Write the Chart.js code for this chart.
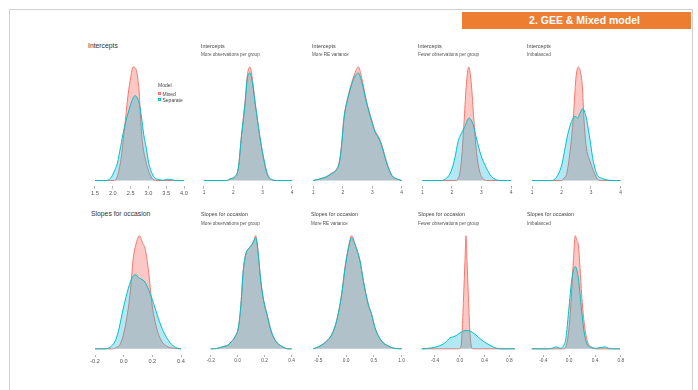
<!DOCTYPE html>
<html><head><meta charset="utf-8">
<script src="https://cdn.jsdelivr.net/npm/chart.js@4.4.1/dist/chart.umd.min.js"></script>
<style>
html,body{margin:0;padding:0;background:#fff;}
body{width:698px;height:390px;position:relative;overflow:hidden;font-family:"Liberation Sans",Arial,sans-serif;}
#frame{position:absolute;left:9px;top:9px;width:682px;height:392px;border:1px solid #d0d0d0;border-bottom:none;}
#hdr{position:absolute;left:462px;top:12px;width:229px;height:17px;background:#ED7D31;color:#fff;font-weight:bold;font-size:10.5px;line-height:17px;text-align:center;box-sizing:border-box;padding-left:16px;}
.t{position:absolute;white-space:nowrap;color:#333;}
canvas{position:absolute;}
.sw{position:absolute;width:3px;height:3px;box-sizing:border-box;}
</style></head><body>
<div id="frame"></div>
<div id="hdr">2. GEE &amp; Mixed model</div>
<div id="wrap"></div>
<script>
// ---------------- data ----------------
const panelTitles = ["Intercepts","Intercepts","Intercepts","Intercepts","Intercepts",
  "Slopes for occasion","Slopes for occasion","Slopes for occasion","Slopes for occasion","Slopes for occasion"];
const panelSubtitles = ["","More observations per group","More RE variance","Fewer observations per group","Imbalanced",
  "","More observations per group","More RE variance","Fewer observations per group","Imbalanced"];
const seriesNames = ["Mixed","Separate"];
const legendTitle = "Model";

const intAllTicks = [1.5,2.0,2.5,3.0,3.5,4.0];
const intTicks = [1,2,3,4];
const slpAllTicks = [-0.2,0.0,0.2,0.4];
const slpMoreRETicks = [-0.5,0.0,0.5,1.0];
const slpSmallTicks = [-0.4,0.0,0.4,0.8];

// Intercepts (all)
const intAllMixedX = [1.5,2.03,2.11,2.22,2.31,2.36,2.43,2.5,2.57,2.67,2.70,2.74,2.78,2.83,2.93,3.01,3.10,3.24,4.0];
const intAllMixedY = [0,0,0.07,0.57,1.37,1.87,2.57,3.07,3.40,3.27,3.07,2.67,1.87,1.17,0.57,0.27,0.07,0,0];
const intAllSepX = [1.5,1.80,1.94,2.03,2.13,2.22,2.30,2.39,2.5,2.57,2.62,2.69,2.75,2.81,2.87,2.94,3.01,3.08,3.17,3.29,3.43,3.54,3.63,3.76,4.0];
const intAllSepY = [0,0,0.07,0.25,0.52,1.02,1.47,1.87,2.27,2.47,2.54,2.47,2.27,1.87,1.37,0.97,0.52,0.27,0.09,0.03,0.01,0.04,0.03,0,0];
// Intercepts, more observations per group
const intMoreObsX = [1.0,1.77,1.89,2.06,2.17,2.28,2.40,2.48,2.57,2.66,2.74,2.83,2.93,3.05,3.16,3.31,3.48,4.0];
const intMoreObsMixedY = [0,0,0.05,0.12,0.37,1.37,2.37,3.17,3.40,2.97,2.37,1.77,1.17,0.57,0.17,0.02,0,0];
const intMoreObsSepY = [0,0,0.05,0.12,0.37,1.35,2.30,3.07,3.22,2.87,2.33,1.77,1.17,0.60,0.20,0.03,0,0];
// Intercepts, more RE variance
const intMoreREX = [1.0,1.23,1.45,1.62,1.77,1.88,1.96,2.04,2.19,2.39,2.53,2.64,2.81,2.96,3.10,3.21,3.32,3.49,3.66,3.83,4.0];
const intMoreREMixedY = [0,0.0125,0.03,0.055,0.08,0.14,0.27,0.47,0.64,0.79,0.85,0.77,0.59,0.47,0.37,0.33,0.27,0.14,0.04,0.0125,0];
const intMoreRESepY = [0,0.012,0.028,0.05,0.075,0.13,0.26,0.46,0.63,0.77,0.805,0.74,0.58,0.46,0.36,0.32,0.26,0.13,0.04,0.012,0];
// Intercepts, fewer observations per group
const intFewerMixedX = [1.0,2.16,2.21,2.27,2.35,2.42,2.49,2.57,2.66,2.74,2.83,2.94,3.06,3.17,4.0];
const intFewerMixedY = [0,0,0.07,0.22,0.87,1.87,2.87,3.40,2.87,1.87,0.87,0.27,0.05,0,0];
const intFewerSepX = [1.0,1.65,1.82,1.97,2.10,2.21,2.30,2.44,2.58,2.72,2.83,2.98,3.17,3.34,3.51,3.67,4.0];
const intFewerSepY = [0,0,0.07,0.27,0.67,1.17,1.37,1.62,1.87,1.67,1.27,0.77,0.37,0.12,0.02,0,0];
// Intercepts, imbalanced
const intImbalMixedX = [1.0,2.01,2.08,2.18,2.29,2.40,2.49,2.57,2.65,2.71,2.76,2.83,2.97,3.14,3.25,3.36,4.0];
const intImbalMixedY = [0,0,0.07,0.22,0.87,1.87,3.07,3.40,3.22,2.77,1.87,1.07,0.57,0.17,0.02,0,0];
const intImbalSepX = [1.0,1.67,1.78,1.89,2.01,2.10,2.21,2.34,2.46,2.55,2.63,2.72,2.83,2.94,3.08,3.21,3.36,3.53,3.70,4.0];
const intImbalSepY = [0,0,0.05,0.19,0.47,0.87,1.37,1.77,1.92,1.87,2.02,2.15,1.92,1.37,0.57,0.17,0.07,0.02,0,0];

// Slopes for occasion (all)
const slpAllMixedX = [-0.2,-0.072,-0.049,-0.026,0.009,0.044,0.067,0.091,0.109,0.133,0.149,0.165,0.179,0.195,0.23,0.265,0.30,0.347,0.4];
const slpAllMixedY = [0,0,0.1,0.26,1.26,3.26,5.46,6.46,6.82,6.36,6.06,5.26,4.26,2.86,1.26,0.46,0.16,0.04,0];
const slpAllSepX = [-0.2,-0.13,-0.095,-0.06,-0.037,-0.002,0.033,0.063,0.086,0.102,0.119,0.149,0.184,0.219,0.249,0.288,0.335,0.37,0.4];
const slpAllSepY = [0,0,0.1,0.46,1.06,2.46,3.66,4.36,4.46,4.3,4.22,4.02,3.36,2.46,1.66,0.86,0.26,0.06,0];
// Slopes, more observations per group
const slpMoreObsX = [-0.2,-0.157,-0.12,-0.096,-0.072,-0.048,-0.017,0.007,0.024,0.041,0.06,0.084,0.108,0.123,0.133,0.145,0.157,0.171,0.193,0.217,0.248,0.282,0.325,0.373,0.4];
const slpMoreObsMixedY = [0,0.02,0.1,0.16,0.22,0.42,0.76,1.36,2.66,4.66,5.66,6.02,6.26,6.56,6.76,6.26,5.26,4.06,2.86,2.06,1.06,0.46,0.16,0,0];
const slpMoreObsSepY = [0,0.02,0.1,0.16,0.22,0.42,0.76,1.36,2.66,4.66,5.66,6.02,6.26,6.50,6.66,6.20,5.26,4.06,2.86,2.06,1.06,0.46,0.16,0,0];
// Slopes, more RE variance
const slpMoreREX = [-0.59,-0.47,-0.35,-0.26,-0.17,-0.08,-0.02,0.04,0.10,0.16,0.25,0.31,0.40,0.46,0.52,0.64,0.76,0.85,1.0];
const slpMoreREMixedY = [0,0.04,0.11,0.2,0.4,0.78,1.16,1.44,1.61,1.49,1.25,0.97,0.63,0.49,0.3,0.11,0.04,0.01,0];
const slpMoreRESepY = [0,0.04,0.11,0.2,0.4,0.77,1.14,1.42,1.58,1.48,1.25,0.97,0.63,0.49,0.3,0.11,0.04,0.01,0];
// Slopes, fewer observations per group
const slpFewerMixedX = [-0.615,-0.023,0.02,0.041,0.063,0.084,0.1,0.117,0.138,0.16,0.187,0.219,0.89];
const slpFewerMixedY = [0,0,0.32,2.52,6.52,10.52,13.64,10.52,6.52,2.52,0.32,0,0];
const slpFewerSepX = [-0.615,-0.535,-0.454,-0.346,-0.239,-0.158,-0.077,0.004,0.084,0.138,0.219,0.3,0.38,0.488,0.569,0.676,0.89];
const slpFewerSepY = [0,0.04,0.12,0.32,0.72,1.32,1.52,1.92,2.2,2.2,1.92,1.4,0.92,0.44,0.12,0,0];
// Slopes, imbalanced
const slpImbalMixedX = [-0.58,-0.09,-0.049,-0.013,0.023,0.065,0.095,0.116,0.142,0.168,0.194,0.23,0.281,0.348,0.426,0.787];
const slpImbalMixedY = [0,0,0.32,1.72,4.92,10.52,13.64,13.12,12.52,9.72,6.52,3.32,0.92,0.2,0,0];
const slpImbalSepX = [-0.58,-0.323,-0.245,-0.194,-0.142,-0.09,-0.049,-0.008,0.044,0.095,0.142,0.194,0.23,0.271,0.333,0.426,0.555,0.606,0.684,0.787];
const slpImbalSepY = [0,0,0.12,0.24,0.08,0.32,1.32,4.52,8.52,9.92,8.52,4.52,2.12,0.72,0.2,0.08,0.24,0.08,0,0];

// ---------------- assemble ----------------
const panels = [
  {mx:intAllMixedX, my:intAllMixedY, sx:intAllSepX, sy:intAllSepY, ticks:intAllTicks, dec:1},
  {mx:intMoreObsX, my:intMoreObsMixedY, sx:intMoreObsX, sy:intMoreObsSepY, ticks:intTicks, dec:0},
  {mx:intMoreREX, my:intMoreREMixedY, sx:intMoreREX, sy:intMoreRESepY, ticks:intTicks, dec:0},
  {mx:intFewerMixedX, my:intFewerMixedY, sx:intFewerSepX, sy:intFewerSepY, ticks:intTicks, dec:0},
  {mx:intImbalMixedX, my:intImbalMixedY, sx:intImbalSepX, sy:intImbalSepY, ticks:intTicks, dec:0},
  {mx:slpAllMixedX, my:slpAllMixedY, sx:slpAllSepX, sy:slpAllSepY, ticks:slpAllTicks, dec:1},
  {mx:slpMoreObsX, my:slpMoreObsMixedY, sx:slpMoreObsX, sy:slpMoreObsSepY, ticks:slpAllTicks, dec:1},
  {mx:slpMoreREX, my:slpMoreREMixedY, sx:slpMoreREX, sy:slpMoreRESepY, ticks:slpMoreRETicks, dec:1},
  {mx:slpFewerMixedX, my:slpFewerMixedY, sx:slpFewerSepX, sy:slpFewerSepY, ticks:slpSmallTicks, dec:1},
  {mx:slpImbalMixedX, my:slpImbalMixedY, sx:slpImbalSepX, sy:slpImbalSepY, ticks:slpSmallTicks, dec:1}
];

// ---------------- layout (pixel calibration per panel) ----------------
const layout = [
  {ax:[1.5,95,4.0,184], row:0, tx:88, big:true},
  {ax:[1,204,4,292], row:0, tx:201},
  {ax:[1,313.3,4,401.7], row:0, tx:312},
  {ax:[1,422.3,4,511], row:0, tx:418},
  {ax:[1,532,3,591], row:0, tx:527},
  {ax:[-0.2,95,0.4,181], row:1, tx:91, big:true},
  {ax:[-0.2,210.7,0.4,291.7], row:1, tx:201},
  {ax:[-0.5,318.3,1.0,401.7], row:1, tx:311},
  {ax:[-0.4,435,0.8,509.3], row:1, tx:418},
  {ax:[-0.4,543.3,0.4,595], row:1, tx:527}
];
const rows = [{top:61.3, bottom:186.2, titleY:46.5, subY:55.5}, {top:230, bottom:354.5, titleY:214.3, subY:224}];
const MIXED_LINE = '#F8766D', MIXED_FILL = 'rgba(248,118,109,0.40)';
const SEP_LINE = '#00BFC4', SEP_FILL = 'rgba(0,180,215,0.30)';
const FONT = '"Liberation Sans", Arial, sans-serif';
const wrap = document.getElementById('wrap');

function addText(txt, x, cy, size, color){
  const d = document.createElement('div');
  d.className = 't';
  d.textContent = txt;
  d.style.left = x + 'px';
  d.style.top = (cy - size/2) + 'px';
  d.style.fontSize = size + 'px';
  d.style.lineHeight = size + 'px';
  d.style.color = color;
  wrap.appendChild(d);
}

panels.forEach((p, i) => {
  const L = layout[i], R = rows[L.row];
  const [v0, p0, v1, p1] = L.ax;
  const k = (p1 - p0) / (v1 - v0);
  const px = v => p0 + (v - v0) * k;
  const allX = p.mx.concat(p.sx);
  let xmin = Math.min(...allX), xmax = Math.max(...allX);
  const ex = (xmax - xmin) * 0.05; xmin -= ex; xmax += ex;
  const M = Math.max(...p.my, ...p.sy);
  const left = px(xmin), right = px(xmax);
  const cl = Math.floor(left) - 8, cr = Math.ceil(right) + 8;
  const ct = Math.floor(R.top) - 2;
  const axisH = 11;
  const ch = Math.ceil(R.bottom - ct + axisH);
  const cv = document.createElement('canvas');
  cv.width = cr - cl; cv.height = ch;
  cv.style.left = cl + 'px'; cv.style.top = ct + 'px';
  cv.style.width = (cr - cl) + 'px'; cv.style.height = ch + 'px';
  wrap.appendChild(cv);

  // titles
  if (L.big) {
    addText(panelTitles[i], L.tx, R.titleY, 6.8, '#333');
  } else {
    addText(panelTitles[i], L.tx, R.titleY, 5.4, '#444');
    addText(panelSubtitles[i], L.tx, R.subY, 4.6, '#555');
  }

  new Chart(cv, {
    type: 'line',
    data: {
      datasets: [
        {label: seriesNames[0], data: p.mx.map((x, j) => ({x, y: p.my[j]})),
         borderColor: MIXED_LINE, backgroundColor: MIXED_FILL, fill: 'origin', order: 1},
        {label: seriesNames[1], data: p.sx.map((x, j) => ({x, y: p.sy[j]})),
         borderColor: SEP_LINE, backgroundColor: SEP_FILL, fill: 'origin', order: 0}
      ]
    },
    options: {
      responsive: false, animation: false, devicePixelRatio: 1,
      layout: {padding: {left: left - cl, right: cr - right, top: R.top - ct, bottom: ch - axisH - (R.bottom - ct)}},
      elements: {point: {radius: 0}, line: {borderWidth: 1, cubicInterpolationMode: 'monotone'}},
      plugins: {legend: {display: false}, tooltip: {enabled: false}, title: {display: false}},
      scales: {
        x: {
          type: 'linear', min: xmin, max: xmax,
          afterBuildTicks: a => { a.ticks = p.ticks.map(v => ({value: v})); },
          afterFit: s => { s.height = axisH; },
          grid: {display: true, drawOnChartArea: false, drawTicks: true, tickLength: 2.5, color: '#9a9a9a', lineWidth: 0.8},
          border: {display: false},
          ticks: {padding: 1, autoSkip: false, maxRotation: 0, color: '#555',
                  font: {family: FONT, size: L.big ? 5.6 : 4.8},
                  callback: v => Number(v).toFixed(p.dec)}
        },
        y: {display: false, min: -0.05 * M, max: 1.05 * M}
      }
    }
  });
});

// legend (panel 1)
addText(legendTitle, 158, 85, 5, '#444');
[[MIXED_FILL, MIXED_LINE, 94], [SEP_FILL, SEP_LINE, 100]].forEach((c, j) => {
  const s = document.createElement('div');
  s.className = 'sw';
  s.style.left = '158px'; s.style.top = (c[2] - 1.7) + 'px';
  s.style.background = c[0]; s.style.border = '0.6px solid ' + c[1];
  wrap.appendChild(s);
  addText(seriesNames[j], 162.5, c[2], 5, '#444');
});
</script>
</body></html>
